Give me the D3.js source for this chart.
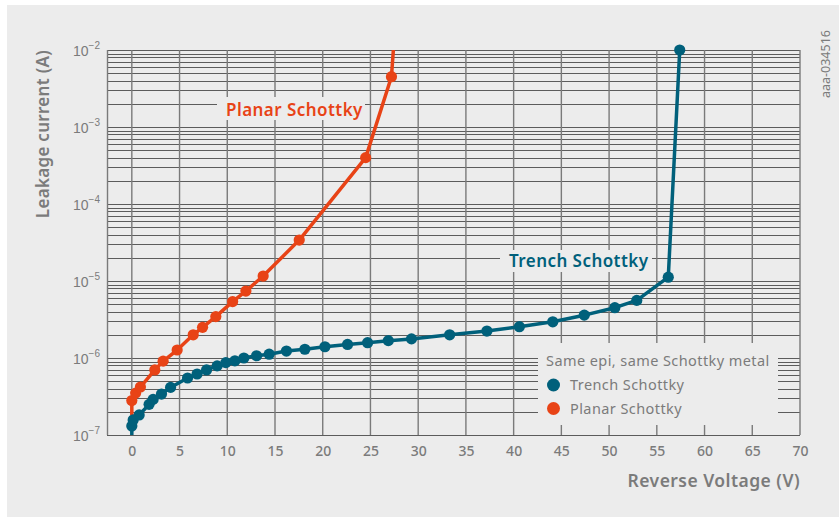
<!DOCTYPE html>
<html><head><meta charset="utf-8">
<script src="https://cdn.jsdelivr.net/npm/d3@7"></script>
<style>
body{margin:0;background:#fff;}
svg{display:block;font-family:"Noto Sans","Open Sans",sans-serif;}
</style></head>
<body><svg id="c" width="839" height="517"></svg>
<script>
// ---- data ----
const trenchV = [0, 0, 0.14, 0.77, 1.81, 2.23, 3.11, 4.06, 5.84, 6.84, 7.83, 8.94, 9.85, 10.8, 11.74, 13.07, 14.39, 16.2, 18.13, 20.23, 22.6, 24.7, 26.87, 29.3, 33.3, 37.2, 40.6, 44.1, 47.4, 50.6, 52.9, 56.2, 57.4];
const trenchI = [1.0e-7, 1.31e-7, 1.57e-7, 1.82e-7, 2.5e-7, 2.9e-7, 3.4e-7, 4.15e-7, 5.5e-7, 6.2e-7, 7.0e-7, 7.9e-7, 8.7e-7, 9.2e-7, 1.0e-6, 1.07e-6, 1.12e-6, 1.23e-6, 1.3e-6, 1.4e-6, 1.5e-6, 1.58e-6, 1.68e-6, 1.77e-6, 2.0e-6, 2.24e-6, 2.55e-6, 2.95e-6, 3.6e-6, 4.5e-6, 5.6e-6, 1.12e-5, 1.0e-2];
const trenchMarker = trenchV.map((v,i)=> i>0);
const planarV = [0, 0, 0.4, 0.9, 2.41, 3.28, 4.75, 6.43, 7.41, 8.8, 10.56, 11.95, 13.76, 17.54, 24.5, 27.2, 27.4];
const planarI = [1.8e-7, 2.8e-7, 3.5e-7, 4.2e-7, 7.0e-7, 9.1e-7, 1.27e-6, 2.0e-6, 2.5e-6, 3.45e-6, 5.4e-6, 7.4e-6, 1.16e-5, 3.4e-5, 4.0e-4, 4.5e-3, 1.0e-2];
const planarMarker = planarV.map((v,i)=> i>0 && i<planarV.length-1);
const xTicks = [0,5,10,15,20,25,30,35,40,45,50,55,60,65,70];
const yExponents = [-7,-6,-5,-4,-3,-2];
const seriesNames = ["Trench Schottky","Planar Schottky"];
const legendTitle = "Same epi, same Schottky metal";
const xTitle = "Reverse Voltage (V)";
const yTitle = "Leakage current (A)";
const figId = "aaa-034516";

// ---- styles ----
const teal = "#00607b", orange = "#e84316", grey = "#7b7b7b", bg = "#ececec";

const svg = d3.select("#c");
svg.append("rect").attr("x",7).attr("y",5).attr("width",832).attr("height",512).attr("fill",bg);

const x = d3.scaleLinear().domain([-2.6,70]).range([107,800]);
const y = d3.scaleLog().domain([1e-7,1e-2]).range([435,50]);

// grid
const g = svg.append("g");
const hVals = [];
for (let e=-7; e<-2; e++) for (let m=1; m<10; m++) hVals.push(m*Math.pow(10,e));
hVals.push(1e-2);
g.selectAll("line.h").data(hVals).join("line")
  .attr("x1",107).attr("x2",800)
  .attr("y1",d=>Math.round(y(d))+0.5).attr("y2",d=>Math.round(y(d))+0.5)
  .attr("stroke","#5c5c5c").attr("stroke-width",1);
g.selectAll("line.v").data(xTicks).join("line")
  .attr("x1",d=>x(d)).attr("x2",d=>x(d)).attr("y1",50).attr("y2",435)
  .attr("stroke","#7a7a7a").attr("stroke-width",1.4);
g.append("line").attr("x1",107.5).attr("x2",107.5).attr("y1",50).attr("y2",435)
  .attr("stroke","#7a7a7a").attr("stroke-width",1.4);

// axis tick labels via d3 axes
const xAxis = svg.append("g").attr("transform","translate(0,435)")
  .call(d3.axisBottom(x).tickValues(xTicks).tickSize(0).tickPadding(11).tickFormat(d3.format("d")));
xAxis.select(".domain").remove();
xAxis.selectAll("text").attr("fill",grey).attr("font-size",14).attr("font-family","Noto Sans").attr("font-weight",500);

const yAxis = svg.append("g").attr("transform","translate(100,0)")
  .call(d3.axisLeft(y).tickValues(yExponents.map(e=>Math.pow(10,e))).tickSize(0).tickPadding(0).tickFormat(""));
yAxis.select(".domain").remove();
yAxis.selectAll(".tick").each(function(d){
  const t = d3.select(this).append("text").attr("text-anchor","end").attr("fill",grey)
    .attr("font-size",14).attr("y",5).attr("x",0).attr("font-weight",500);
  t.append("tspan").text("10");
  t.append("tspan").attr("font-size",10).attr("dy",-7).text("\u2212"+Math.abs(Math.round(Math.log10(d))));
});

// titles
svg.append("text").attr("x",800).attr("y",487).attr("text-anchor","end")
  .attr("fill",grey).attr("font-size",17.5).attr("font-weight",600).attr("letter-spacing",0.45).text(xTitle);
svg.append("text").attr("transform","translate(49,50) rotate(-90)").attr("text-anchor","end")
  .attr("fill",grey).attr("font-size",17).attr("font-weight",600).attr("letter-spacing",0.3).text(yTitle);
svg.append("text").attr("transform","translate(830,98) rotate(-90)").attr("text-anchor","start")
  .attr("fill",grey).attr("font-size",12.5).text(figId);

// series
const line = d3.line().x(d=>x(d[0])).y(d=>y(d[1]));
function drawSeries(V,I,M,color){
  const pts = V.map((v,i)=>[v,I[i],M[i]]);
  svg.append("path").datum(pts).attr("d",line).attr("fill","none")
    .attr("stroke",color).attr("stroke-width",3.5).attr("stroke-linejoin","round");
  svg.append("g").selectAll("circle").data(pts.filter(p=>p[2])).join("circle")
    .attr("cx",d=>x(d[0])).attr("cy",d=>y(d[1])).attr("r",5.6).attr("fill",color);
}
drawSeries(planarV,planarI,planarMarker,orange);
drawSeries(trenchV,trenchI,trenchMarker,teal);

// inline labels with background boxes
function boxLabel(tx,ty,text,color,bx,by,bw,bh){
  svg.append("rect").attr("x",bx).attr("y",by).attr("width",bw).attr("height",bh).attr("fill",bg);
  svg.append("text").attr("x",tx).attr("y",ty).attr("fill",color).attr("font-size",17)
    .attr("font-weight",600).attr("letter-spacing",0.45).text(text);
}
boxLabel(226,116,seriesNames[1],orange,217,97,148,23);
boxLabel(509,267,seriesNames[0],teal,500,250,152,22);

// legend
const lg = svg.append("g");
lg.append("rect").attr("x",538).attr("y",343).attr("width",240).attr("height",82).attr("fill",bg);
lg.append("text").attr("x",546).attr("y",366).attr("fill",grey).attr("font-size",14.5).attr("letter-spacing",0.42).text(legendTitle);
const legendColors = [teal, orange];
seriesNames.forEach((n,i)=>{
  lg.append("circle").attr("cx",553.5).attr("cy",385+i*23.5).attr("r",6.5).attr("fill",legendColors[i]);
  lg.append("text").attr("x",570).attr("y",390+i*23.5).attr("fill",grey).attr("font-size",14.5).attr("letter-spacing",0.42).text(n);
});
</script></body></html>
